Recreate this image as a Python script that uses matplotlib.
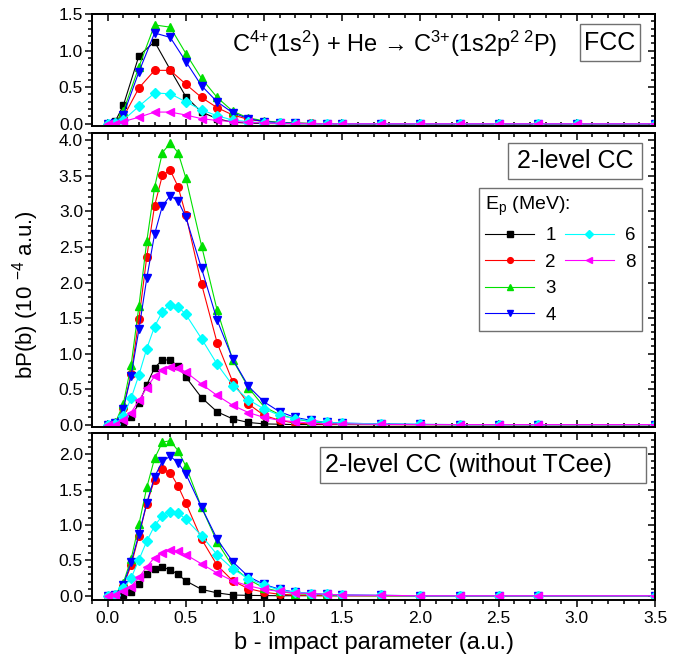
import matplotlib
matplotlib.use("Agg")
import matplotlib.pyplot as plt
from matplotlib.lines import Line2D
from matplotlib.patches import Rectangle
from matplotlib.ticker import MultipleLocator

plt.rcParams["font.family"] = ["Liberation Sans", "DejaVu Sans"]
plt.rcParams["mathtext.fontset"] = "custom"
plt.rcParams["mathtext.rm"] = "Liberation Sans"
plt.rcParams["mathtext.it"] = "Liberation Sans:italic"
plt.rcParams["mathtext.bf"] = "Liberation Sans:bold"

# ── Data ────────────────────────────────────────────────────────────────
energies = ["1", "2", "3", "4", "6", "8"]

b_fcc = [0, 0.05, 0.1, 0.2, 0.3, 0.4, 0.5, 0.6, 0.7, 0.8, 0.9, 1.0,
         1.1, 1.2, 1.3, 1.4, 1.5, 1.75, 2.0, 2.25, 2.5, 2.75, 3.0, 3.5]

fcc_1 = [0, 0.04, 0.25, 0.93, 1.12, 0.74, 0.37, 0.16, 0.07, 0.02, 0.01, 0.004,
         0.002, 0.001, 0, 0, 0, 0, 0, 0, 0, 0, 0, 0]
fcc_2 = [0, 0.01, 0.09, 0.49, 0.73, 0.73, 0.54, 0.36, 0.22, 0.12, 0.06, 0.03,
         0.015, 0.008, 0.004, 0.002, 0.001, 0, 0, 0, 0, 0, 0, 0]
fcc_3 = [0, 0.02, 0.17, 0.78, 1.35, 1.32, 0.96, 0.62, 0.36, 0.17, 0.08, 0.04,
         0.02, 0.01, 0.005, 0.002, 0.001, 0, 0, 0, 0, 0, 0, 0]
fcc_4 = [0, 0.01, 0.12, 0.71, 1.24, 1.18, 0.85, 0.52, 0.30, 0.15, 0.07, 0.03,
         0.015, 0.007, 0.003, 0.002, 0.001, 0, 0, 0, 0, 0, 0, 0]
fcc_6 = [0, 0.01, 0.05, 0.24, 0.42, 0.41, 0.30, 0.19, 0.11, 0.05, 0.03, 0.01,
         0.005, 0.002, 0.001, 0, 0, 0, 0, 0, 0, 0, 0, 0]
fcc_8 = [0, 0.0, 0.03, 0.09, 0.16, 0.16, 0.12, 0.07, 0.045, 0.03, 0.02, 0.01,
         0.005, 0.002, 0.001, 0, 0, 0, 0, 0, 0, 0, 0, 0]

b_cc = [0, 0.05, 0.1, 0.15, 0.2, 0.25, 0.3, 0.35, 0.4, 0.45, 0.5, 0.6, 0.7,
        0.8, 0.9, 1.0, 1.1, 1.2, 1.3, 1.4, 1.5, 1.75, 2.0, 2.25, 2.5, 2.75, 3.5]

cc_1 = [0, 0.0, 0.02, 0.11, 0.30, 0.56, 0.80, 0.91, 0.91, 0.82, 0.67, 0.38, 0.18,
        0.08, 0.03, 0.01, 0.005, 0, 0, 0, 0, 0, 0, 0, 0, 0, 0]
cc_2 = [0, 0.02, 0.24, 0.71, 1.49, 2.36, 3.08, 3.51, 3.58, 3.35, 2.95, 1.98, 1.15,
        0.60, 0.29, 0.13, 0.06, 0.02, 0.01, 0.005, 0.002, 0, 0, 0, 0, 0, 0]
cc_3 = [0, 0.03, 0.29, 0.84, 1.67, 2.58, 3.34, 3.83, 3.96, 3.83, 3.47, 2.52, 1.61,
        0.91, 0.52, 0.25, 0.14, 0.08, 0.04, 0.02, 0.01, 0.003, 0, 0, 0, 0, 0]
cc_4 = [0, 0.02, 0.22, 0.69, 1.34, 2.06, 2.68, 3.08, 3.22, 3.15, 2.92, 2.20, 1.47,
        0.92, 0.54, 0.32, 0.18, 0.10, 0.06, 0.03, 0.02, 0.01, 0.003, 0, 0, 0, 0]
cc_6 = [0, 0.01, 0.12, 0.37, 0.70, 1.07, 1.38, 1.59, 1.69, 1.66, 1.55, 1.21, 0.85,
        0.55, 0.35, 0.22, 0.13, 0.08, 0.05, 0.03, 0.02, 0.01, 0.003, 0, 0, 0, 0]
cc_8 = [0, 0.0, 0.07, 0.17, 0.34, 0.52, 0.68, 0.77, 0.81, 0.80, 0.74, 0.57, 0.41,
        0.27, 0.17, 0.10, 0.06, 0.04, 0.02, 0.01, 0.01, 0.003, 0, 0, 0, 0, 0]

nt_1 = [0, 0.0, 0.01, 0.05, 0.17, 0.30, 0.38, 0.40, 0.37, 0.30, 0.21, 0.09, 0.04,
        0.01, 0.005, 0.002, 0, 0, 0, 0, 0, 0, 0, 0, 0, 0, 0]
nt_2 = [0, 0.01, 0.14, 0.43, 0.85, 1.30, 1.64, 1.79, 1.74, 1.55, 1.31, 0.80, 0.43,
        0.21, 0.10, 0.05, 0.02, 0.01, 0.005, 0, 0, 0, 0, 0, 0, 0, 0]
nt_3 = [0, 0.02, 0.18, 0.52, 1.01, 1.53, 1.94, 2.17, 2.19, 2.05, 1.83, 1.25, 0.76,
        0.41, 0.23, 0.11, 0.06, 0.03, 0.02, 0.01, 0.005, 0, 0, 0, 0, 0, 0]
nt_4 = [0, 0.01, 0.15, 0.47, 0.87, 1.31, 1.68, 1.90, 1.97, 1.88, 1.72, 1.25, 0.80,
        0.48, 0.27, 0.16, 0.09, 0.05, 0.03, 0.02, 0.01, 0.005, 0, 0, 0, 0, 0]
nt_6 = [0, 0.01, 0.11, 0.25, 0.51, 0.77, 0.99, 1.13, 1.19, 1.17, 1.08, 0.85, 0.58,
        0.38, 0.24, 0.15, 0.08, 0.05, 0.03, 0.02, 0.01, 0.005, 0, 0, 0, 0, 0]
nt_8 = [0, 0.01, 0.06, 0.13, 0.26, 0.41, 0.54, 0.61, 0.64, 0.63, 0.58, 0.45, 0.32,
        0.21, 0.14, 0.09, 0.06, 0.04, 0.03, 0.02, 0.01, 0.005, 0, 0, 0, 0, 0]

# ── Style ───────────────────────────────────────────────────────────────
colors = ["#000000", "#FF0000", "#00E000", "#0000FF", "#00FFFF", "#FF00FF"]
markers = ["s", "o", "^", "v", "D", "<"]
msizes = [5, 5.5, 5.5, 5.5, 5, 5.5]
TICK_FS = 12.5

fig = plt.figure(figsize=(6.93, 6.62), dpi=100)
L, W = 0.1328, 0.8124
ax_top = fig.add_axes([L, 0.8097, W, 0.1692])
ax_mid = fig.add_axes([L, 0.3554, W, 0.4432])
ax_bot = fig.add_axes([L, 0.0937, W, 0.2523])


def draw(ax, x, series):
    for ys, c, m, ms, e in zip(series, colors, markers, msizes, energies):
        ax.plot(x, ys, color=c, lw=0.8, marker=m, ms=ms, mec=c, mfc=c,
                label=e)


def style(ax, ylim, bottom_labels):
    ax.set_xlim(-0.1, 3.5)
    ax.set_ylim(*ylim)
    for s in ax.spines.values():
        s.set_linewidth(1.4)
    ax.xaxis.set_major_locator(MultipleLocator(0.5))
    ax.xaxis.set_minor_locator(MultipleLocator(0.1))
    ax.yaxis.set_major_locator(MultipleLocator(0.5))
    ax.yaxis.set_minor_locator(MultipleLocator(0.1))
    ax.tick_params(axis="y", which="both", direction="out", left=True,
                   right=False, labelsize=TICK_FS, width=1.1, pad=1.5)
    ax.tick_params(axis="y", which="major", length=5)
    ax.tick_params(axis="y", which="minor", length=3)
    xdir = "out" if bottom_labels else "in"
    ax.tick_params(axis="x", which="both", direction=xdir, top=False,
                   labelbottom=bottom_labels, labelsize=TICK_FS, width=1.1,
                   pad=3)
    ax.tick_params(axis="x", which="major", length=5)
    ax.tick_params(axis="x", which="minor", length=3)
    # top and right ticks point inward
    sx = ax.secondary_xaxis("top")
    sx.xaxis.set_major_locator(MultipleLocator(0.5))
    sx.xaxis.set_minor_locator(MultipleLocator(0.1))
    sx.tick_params(which="both", direction="in", labeltop=False, width=1.1)
    sx.tick_params(which="major", length=5)
    sx.tick_params(which="minor", length=3)
    sy = ax.secondary_yaxis("right")
    sy.yaxis.set_major_locator(MultipleLocator(0.5))
    sy.yaxis.set_minor_locator(MultipleLocator(0.1))
    sy.tick_params(which="both", direction="in", labelright=False, width=1.1)
    sy.tick_params(which="major", length=5)
    sy.tick_params(which="minor", length=3)
    for s in list(sx.spines.values()) + list(sy.spines.values()):
        s.set_linewidth(1.4)


def boxed(ax, x0, y0, x1, y1, text, tx, ty, size=18, ha="center"):
    ax.add_patch(Rectangle((x0, y0), x1 - x0, y1 - y0, transform=ax.transAxes,
                           fill=False, ec="#707070", lw=1.0, zorder=5))
    ax.text(tx, ty, text, transform=ax.transAxes, ha=ha, va="center",
            fontsize=size, zorder=6)


# ── Panel 1: FCC ────────────────────────────────────────────────────────
draw(ax_top, b_fcc, [fcc_1, fcc_2, fcc_3, fcc_4, fcc_6, fcc_8])
style(ax_top, (-0.03, 1.5), False)
ax_top.text(0.537, 0.73,
            r"C$^{4{+}}$(1s$^{2}$) + He → C$^{3{+}}$(1s2p$^{2\,\,2}$P)",
            transform=ax_top.transAxes, ha="center", va="center",
            fontsize=17)
boxed(ax_top, 0.867, 0.58, 0.973, 0.91, "FCC", 0.92, 0.74)

# ── Panel 2: 2-level CC ─────────────────────────────────────────────────
draw(ax_mid, b_cc, [cc_1, cc_2, cc_3, cc_4, cc_6, cc_8])
style(ax_mid, (-0.03, 4.1), False)
boxed(ax_mid, 0.739, 0.844, 0.977, 0.967, "2-level CC", 0.858, 0.905)

handles, labels = ax_mid.get_legend_handles_labels()
blank = Line2D([], [], linestyle="none", marker=None)
handles = handles + [blank, blank]
labels = labels + ["", ""]
leg = ax_mid.legend(handles, labels, ncol=2, title=r"E$_{\rm p}$ (MeV):",
                    alignment="left", loc="upper right",
                    bbox_to_anchor=(0.977, 0.813), borderaxespad=0,
                    fontsize=13.5, title_fontsize=14, markerscale=0.75,
                    handlelength=2.6, handletextpad=0.6, columnspacing=0.5,
                    labelspacing=0.5, fancybox=False, framealpha=1,
                    edgecolor="#707070", borderpad=0.35)
leg.get_frame().set_linewidth(1.0)

# ── Panel 3: 2-level CC without TCee ────────────────────────────────────
draw(ax_bot, b_cc, [nt_1, nt_2, nt_3, nt_4, nt_6, nt_8])
style(ax_bot, (-0.06, 2.3), True)
boxed(ax_bot, 0.405, 0.702, 0.984, 0.916, "2-level CC (without TCee)",
      0.414, 0.809, ha="left")
ax_bot.set_xlabel("b - impact parameter (a.u.)", fontsize=17, labelpad=4)

fig.text(0.037, 1 - 295 / 662, r"bP(b) (10 $^{-4}$ a.u.)", rotation=90,
         ha="center", va="center", fontsize=16)

fig.savefig("out.png", dpi=100)
